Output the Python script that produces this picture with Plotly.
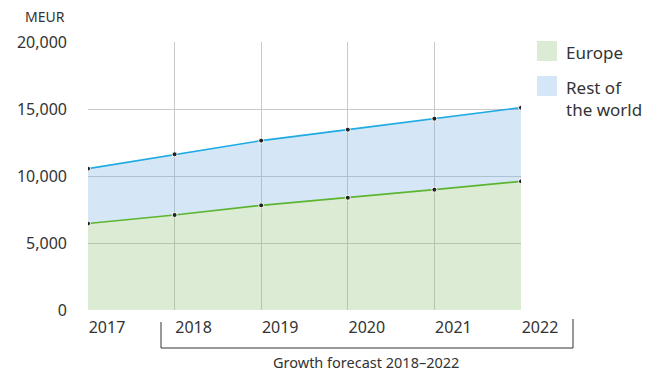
import plotly.graph_objects as go

years = [2017, 2018, 2019, 2020, 2021, 2022]
year_labels = ["2017", "2018", "2019", "2020", "2021", "2022"]
europe = [6450, 7090, 7810, 8380, 8980, 9600]
rest_of_world = [4100, 4530, 4830, 5080, 5300, 5500]
y_ticks = [0, 5000, 10000, 15000, 20000]
series_names = ["Europe", "Rest of<br>the world"]

FONT = "Noto Sans"
TXT = "#333333"
GRID = "#c9c9c9"

fig = go.Figure()
fig.add_trace(go.Scatter(
    x=years, y=europe, stackgroup="one", mode="lines+markers",
    line=dict(color="#5cb531", width=1.6), fillcolor="rgba(138,188,112,0.3)",
    marker=dict(color="#222222", size=5, line=dict(color="white", width=1)),
    name="Europe", showlegend=False))
fig.add_trace(go.Scatter(
    x=years, y=rest_of_world, stackgroup="one", mode="lines+markers",
    line=dict(color="#1eaae3", width=1.6), fillcolor="rgba(115,175,225,0.3)",
    marker=dict(color="#222222", size=5, line=dict(color="white", width=1)),
    name="Rest of the world", showlegend=False))

fig.update_layout(
    width=659, height=371, autosize=False,
    margin=dict(l=88, r=138, t=42, b=61),
    paper_bgcolor="white", plot_bgcolor="white",
    font=dict(family=FONT, color=TXT, size=16),
    xaxis=dict(range=[years[0], years[-1]], tickvals=years, ticktext=year_labels,
               showgrid=True, gridcolor=GRID, gridwidth=1, zeroline=False,
               showline=False, ticks="", ticklabelshift=19, ticklabelstandoff=6,
               tickfont=dict(size=16, color=TXT)),
    yaxis=dict(range=[0, 20000], tickvals=y_ticks, tickformat=",",
               showgrid=True, gridcolor=GRID, gridwidth=1, zeroline=False,
               showline=False, ticks="", ticklabelstandoff=20,
               tickfont=dict(size=16, color=TXT)),
)

def px(x):
    return (x - 88) / 433

def py(y):
    return (310 - y) / 268

# MEUR unit label
fig.add_annotation(xref="paper", yref="paper", x=px(67), y=py(17),
                   text="MEUR", showarrow=False, xanchor="right", yanchor="middle",
                   font=dict(size=14, color=TXT))

# Legend
fig.add_shape(type="rect", xref="paper", yref="paper", x0=px(537), x1=px(557),
              y0=py(61), y1=py(41), fillcolor="#dcebd4", line=dict(width=0))
fig.add_shape(type="rect", xref="paper", yref="paper", x0=px(537), x1=px(557),
              y0=py(96), y1=py(76), fillcolor="#d5e7f6", line=dict(width=0))
fig.add_annotation(xref="paper", yref="paper", x=px(564), y=py(52), text=series_names[0],
                   showarrow=False, xanchor="left", yanchor="middle", align="left",
                   font=dict(size=17, color=TXT))
fig.add_annotation(xref="paper", yref="paper", x=px(564), y=py(74), text=series_names[1],
                   showarrow=False, xanchor="left", yanchor="top", align="left",
                   font=dict(size=17, color=TXT))

# Forecast bracket
fig.add_shape(type="path", xref="paper", yref="paper",
              path=f"M {px(161)},{py(322)} L {px(161)},{py(348)} L {px(573)},{py(348)} L {px(573)},{py(319)}",
              line=dict(color="#333333", width=1))
fig.add_annotation(xref="paper", yref="paper", x=px(366), y=py(362),
                   text="Growth forecast 2018–2022", showarrow=False,
                   xanchor="center", yanchor="middle", font=dict(size=14.5, color=TXT))

fig.write_html("out.html")
